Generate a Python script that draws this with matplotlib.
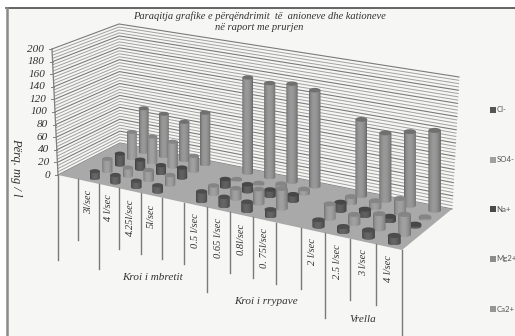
import matplotlib
matplotlib.use('Agg')
import matplotlib.pyplot as plt
from matplotlib.patches import Polygon
import numpy as np

nan = float('nan')

# mg/l for every discharge, empty slots separate the springs
categories = ['', '3l/sec', '4 l/sec', '4.25l/sec', '5l/sec', '',
              '0.5 l/sec', '0.65 l/sec', '0.8l/sec', '0. 75l/sec', '',
              '2 l/sec', '2.5 l/sec', '3 l/sec', '4 l/sec']
cl = [nan, 11, 12, 10, 10, nan, 15, 14, 14, 10, nan, 10, 8, 11, 11]
so4 = [nan, 20, 13, 16, 15, nan, 13, 16, 22, 30, nan, 22, 14, 23, 30]
na = [nan, 18, 15, 13, 16, nan, 12, 11, 10, 10, nan, 13, 10, 7, 3]
mg = [nan, 43, 42, 40, 24, nan, 1, 2, 8, 7, nan, 10, 11, 22, 2]
ca = [nan, 72, 69, 62, 83, nan, 151, 148, 153, 149, nan, 117, 103, 112, 121]
series = [cl, so4, na, mg, ca]
series_names = ['Cl-', 'SO4-', 'Na+', 'Mg2+', 'Ca2+']
y_ticks = list(range(0, 201, 20))
groups = ['Kroi i mbretit', 'Kroi i rrypave', 'Vrella']
group_ticks = [0, 2, 7, 12, 15]

# edge, centre and cap greys of each series
shades = [(0.25, 0.40, 0.30), (0.44, 0.63, 0.52), (0.23, 0.38, 0.28),
          (0.44, 0.63, 0.52), (0.40, 0.60, 0.44)]
legend_colors = ['#555555', '#a0a0a0', '#4a4a4a', '#8c8c8c', '#959595']

Z_MAX = 200
FLOOR = [(58, 175), (402, 250), (452, 209), (120, 143)]
ROOF = [(52, 49), (408, 116), (459, 77), (119, 24)]


def homography(pts):
    src = [(0, 0), (1, 0), (1, 1), (0, 1)]
    a, b = [], []
    for (u, v), (x, y) in zip(src, pts):
        a.append([u, v, 1, 0, 0, 0, -u * x, -v * x])
        a.append([0, 0, 0, u, v, 1, -u * y, -v * y])
        b += [x, y]
    return np.append(np.linalg.solve(np.array(a, float), np.array(b, float)), 1).reshape(3, 3)


H_FLOOR = homography(FLOOR)
H_ROOF = homography(ROOF)


def project(u, v, z=0):
    p0 = H_FLOOR @ [u, v, 1]
    p1 = H_ROOF @ [u, v, 1]
    p0 = p0[:2] / p0[2]
    p1 = p1[:2] / p1[2]
    return p0 + (p1 - p0) * z / Z_MAX


def cylinder(ax, u, v, val, shade, zorder):
    n = len(categories)
    x0, y0 = project(u, v)
    y1 = project(u, v, val)[1]
    # the bars stay upright, only their height comes from the roof plane
    w = abs(project(u + 0.25 / n, v)[0] - project(u - 0.25 / n, v)[0])
    rx, ry = w / 2, w * 0.2
    t = np.linspace(0, np.pi, 30)
    edge, mid, cap = shade
    body = np.vstack([[[x0 - rx, y1]],
                      np.c_[x0 - rx * np.cos(t), y0 + ry * np.sin(t)],
                      [[x0 + rx, y1]]])
    clip = Polygon(body, closed=True, fc='none', ec='none', transform=ax.transData)
    ax.add_patch(clip)
    s = np.linspace(0, 1, 24)
    grad = edge + (mid - edge) * np.sin(np.pi * s ** 0.85) ** 0.7
    im = ax.imshow(grad[None, :], extent=(x0 - rx, x0 + rx, y0 + ry, y1), cmap='gray',
                   vmin=0, vmax=1, aspect='auto', interpolation='bilinear', zorder=zorder)
    im.set_clip_path(clip)
    t = np.linspace(0, 2 * np.pi, 50)
    ax.fill(x0 + rx * np.cos(t), y1 + ry * np.sin(t), color=str(cap), lw=0, zorder=zorder + 0.1)


fig = plt.figure(figsize=(5.15, 3.36), dpi=100, facecolor='white')
ax = fig.add_axes([0, 0, 1, 1])
ax.set_axis_off()

serif = 'Liberation Serif'

# chart area with its dark top and left border
ax.fill([7, 515, 515, 7], [8, 8, 336, 336], color='#f6f6f4', lw=0, zorder=0)
ax.plot([6, 515], [8, 8], color='#4a4a4a', lw=1.2, zorder=1)
ax.plot([7, 7], [8, 336], color='#8a8a8a', lw=1.8, zorder=1)

# floor
ax.fill(*zip(*FLOOR), color='#a9a9a9', lw=0, zorder=2)

# gridlines on the left and back walls
for z in range(0, Z_MAX + 1, 5):
    major = z % 20 == 0
    pts = [project(0, 0, z), project(0, 1, z), project(1, 1, z)]
    xs, ys = zip(*pts)
    ax.plot(xs, ys, color='#7a7a7a' if major else '#a0a0a0',
            lw=0.8 if major else 0.7, zorder=1.5)

# value axis
ax.plot(*zip(project(0, 0), project(0, 0, Z_MAX)), color='#808080', lw=0.9, zorder=3)
for z in y_ticks:
    x, y = project(0, 0, z)
    ax.plot([x - 3, x], [y, y], color='#808080', lw=0.7, zorder=3)
    ax.text(x - 8, y, str(z), ha='right', va='center', family=serif, style='italic',
            fontsize=8, color='#333333')

# category dividers hanging from the front edge of the floor
n_cat = len(categories)
for i in range(n_cat + 1):
    x, y = project(i / n_cat, 0)
    drop = 85 if i in group_ticks else 61
    ax.plot([x, x], [y, y + drop], color='#7a7a7a', lw=1.0, zorder=3)

for i, lab in enumerate(categories):
    if lab:
        x, y = project((i + 0.5) / n_cat, 0)
        ax.text(x, y + 8, lab, rotation=90, ha='center', va='top', family=serif,
                style='italic', fontsize=7.5, color='#333333')

for lab, x, y in zip(groups, [153, 266, 363], [277, 302, 319]):
    ax.text(x, y, lab, ha='center', va='center', family=serif, style='italic',
            fontsize=8, color='#333333')

# cylinders, far row first so nearer ones cover them
for r in range(len(series) - 1, -1, -1):
    for i, val in enumerate(series[r]):
        if not np.isnan(val):
            cylinder(ax, (i + 0.5) / n_cat, (r + 0.5) / len(series), val, shades[r],
                     10 + (len(series) - r) * 2 + i * 0.05)

ax.text(259, 21.5, 'Paraqitja grafike e përqëndrimit  të  anioneve dhe kationeve\nnë raport me prurjen',
        ha='center', va='center', family=serif, style='italic', fontsize=7.6,
        color='#333333', linespacing=1.25)
ax.text(16, 167, 'Përq. mg / l', rotation=270, ha='center', va='center', family=serif,
        style='italic', fontsize=9, color='#333333')

# legend down the right side
for name, col, y in zip(series_names, legend_colors, [110, 160, 209, 259, 309]):
    ax.scatter([492.5], [y], marker='s', s=14, color=col, lw=0, zorder=3)
    ax.text(496.5, y, name, ha='left', va='center', family='Lato', fontsize=5.6,
            color='#555555')

ax.set_xlim(0, 515)
ax.set_ylim(336, 0)
fig.savefig('out.png', dpi=100)
